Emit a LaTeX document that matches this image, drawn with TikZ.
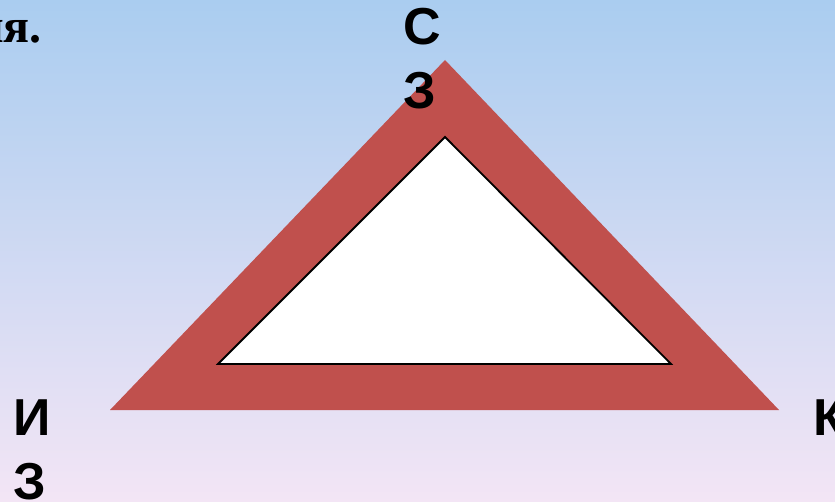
\documentclass[tikz,border=0pt]{standalone}
\usepackage{fontspec}
\setmainfont{Liberation Serif}
\newfontfamily\labelfont{Liberation Sans}
\definecolor{skyblue}{RGB}{170,205,240}
\definecolor{palepink}{RGB}{243,229,245}
\definecolor{brickred}{RGB}{192,80,77}
\begin{document}
\begin{tikzpicture}[x=1pt, y=-1pt,
            corner/.style={inner sep=0pt, align=left, font=\labelfont\bfseries\fontsize{52}{64}\selectfont}]
            \useasboundingbox (0,0) rectangle (835,502);
            \shade[top color=skyblue, bottom color=palepink] (0,0) rectangle (835,502);
            
            \coordinate (top) at (445,60);
            \coordinate (left) at (110,410);
            \coordinate (right) at (779,410);
            \fill[brickred] (top) -- (left) -- (right) -- cycle;
            \draw[line width=1.8pt, fill=white] (445,137) -- (218,364) -- (671,364) -- cycle;
            
            \node (title) [anchor=base east, inner sep=0pt, font=\bfseries\fontsize{48}{58}\selectfont] at (42,43) {ня.};
            \node (sz) [corner, anchor=north west] at (403,8) {С\\З};
            \node (iz) [corner, anchor=north west] at (13,400) {И\\З};
            \node (k) [corner, anchor=north west] at (813,400) {К};
        \end{tikzpicture}
\end{document}
